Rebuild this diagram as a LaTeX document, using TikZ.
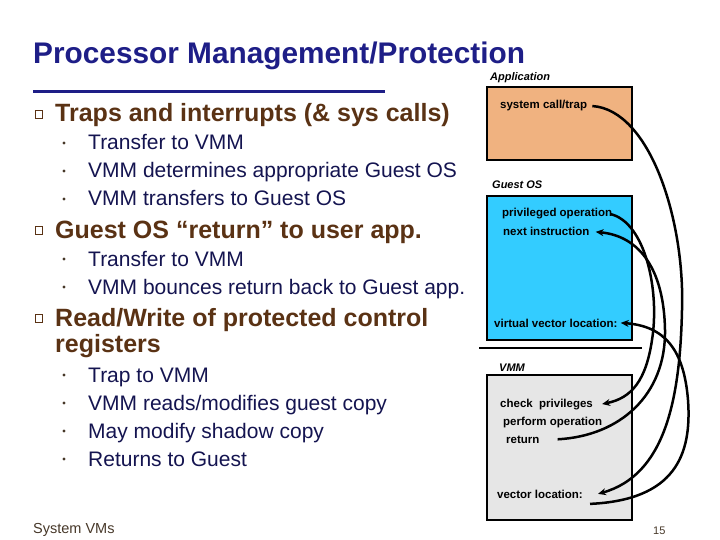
\documentclass[tikz,border=0pt]{standalone}
\usepackage{fontspec}
\setmainfont{Liberation Sans}
\usetikzlibrary{arrows.meta}
\definecolor{titleblue}{RGB}{30,30,135}
\definecolor{itembrown}{RGB}{90,50,20}
\definecolor{subnavy}{RGB}{20,20,80}
\definecolor{footgray}{RGB}{70,55,40}
\definecolor{appfill}{RGB}{240,178,128}
\definecolor{osfill}{RGB}{51,204,255}
\definecolor{vmmfill}{RGB}{230,230,230}

\begin{document}
\begin{tikzpicture}[
  x=1pt, y=-1pt,
  item/.style={anchor=base west, inner sep=0pt, text=itembrown,
    font=\fontsize{25}{29}\selectfont\bfseries},
  subitem/.style={anchor=base west, inner sep=0pt, text=subnavy,
    font=\fontsize{21}{25}\selectfont},
  layer/.style={draw, line width=1.6pt},
  layername/.style={anchor=base west, inner sep=0pt, font=\fontsize{11}{13}\selectfont\bfseries\itshape},
  lbl/.style={anchor=base west, inner sep=0pt, font=\fontsize{11.5}{13}\selectfont\bfseries},
  flow/.style={line width=2.5pt, -{Stealth[length=8pt,width=7pt]}},
  sqbullet/.style={draw=itembrown, line width=0.9pt, minimum size=7.5pt, inner sep=0pt},
  dotbullet/.style={circle, fill=footgray, inner sep=0pt, minimum size=3.2pt}
]
  \useasboundingbox (0,0) rectangle (720,540);

  % title
  \node[anchor=base west, inner sep=0pt, text=titleblue,
    font=\fontsize{29.8}{34}\selectfont\bfseries] (title) at (33,64) {Processor Management/Protection};
  \draw[titleblue, line width=3pt] (33,92) -- (385,92);

  % bullets
  \foreach \y in {122,238,326}
    \node[sqbullet] (sq\y) at (39,\y-7.5) {};
  \foreach \y in {150,178,206,266,294,382,410,438,466}
    \node[dotbullet] (dt\y) at (64,\y-7) {};

  \node[item] (trap) at (55,122) {Traps and interrupts (\& sys calls)};
  \node[subitem] (t1) at (88,150) {Transfer to VMM};
  \node[subitem] (t2) at (88,178) {VMM determines appropriate Guest OS};
  \node[subitem] (t3) at (88,206) {VMM transfers to Guest OS};
  \node[item] (back) at (55,238) {Guest OS “return” to user app.};
  \node[subitem] (b1) at (88,266) {Transfer to VMM};
  \node[subitem] (b2) at (88,294) {VMM bounces return back to Guest app.};
  \node[item] (rw) at (55,326) {Read/Write of protected control};
  \node[item] (regs) at (55,352) {registers};
  \node[subitem] (r1) at (88,382) {Trap to VMM};
  \node[subitem] (r2) at (88,410) {VMM reads/modifies guest copy};
  \node[subitem] (r3) at (88,438) {May modify shadow copy};
  \node[subitem] (r4) at (88,466) {Returns to Guest};

  % layers
  \draw[layer, fill=appfill] (487,87) rectangle (632,160);
  \draw[layer, fill=osfill] (487,196) rectangle (632,340);
  \draw[line width=2.4pt] (479,348) -- (642,348);
  \draw[layer, fill=vmmfill] (487,375) rectangle (632,520);

  \node[layername] (app) at (490,81) {Application};
  \node[lbl] (sys) at (500,109) {system call/trap};
  \node[layername] (guest) at (492,189) {Guest OS};
  \node[lbl] (priv) at (502,217) {privileged operation};
  \node[lbl] (nexti) at (503,236) {next instruction};
  \node[lbl] (vvec) at (494,327) {virtual vector location:};
  \node[layername] (vmm) at (499,371) {VMM};
  \node[lbl] (chk) at (500,407) {check~ privileges};
  \node[lbl] (perf) at (503,425) {perform operation};
  \node[lbl] (rtn) at (506,443) {return};
  \node[lbl] (vec) at (497,498) {vector location:};

  % control transfers
  \draw[flow] ([xshift=5pt]sys.east) .. controls (650,110) and (685,220) .. (682,310)
    .. controls (680,400) and (665,475) .. ([xshift=15pt]vec.east);
  \draw[flow] ([xshift=-2pt]priv.east) .. controls (645,222) and (660,290) .. (652,340)
    .. controls (646,380) and (632,398) .. ([xshift=9pt]chk.east);
  \draw[flow] ([xshift=18pt]rtn.east) .. controls (620,436) and (666,395) .. (665,330)
    .. controls (664,270) and (640,236) .. ([xshift=6pt]nexti.east);
  \draw[flow] ([shift={(7pt,-10pt)}]vec.east) .. controls (675,500) and (692,455) .. (688,400)
    .. controls (684,350) and (665,326) .. ([xshift=3pt]vvec.east);

  % footer
  \node[anchor=base west, inner sep=0pt, text=footgray, font=\fontsize{14.5}{17}\selectfont]
    (foot) at (33,533) {System VMs};
  \node[anchor=base west, inner sep=0pt, text=footgray, font=\fontsize{11}{13}\selectfont]
    (page) at (653,534) {15};
\end{tikzpicture}
\end{document}
